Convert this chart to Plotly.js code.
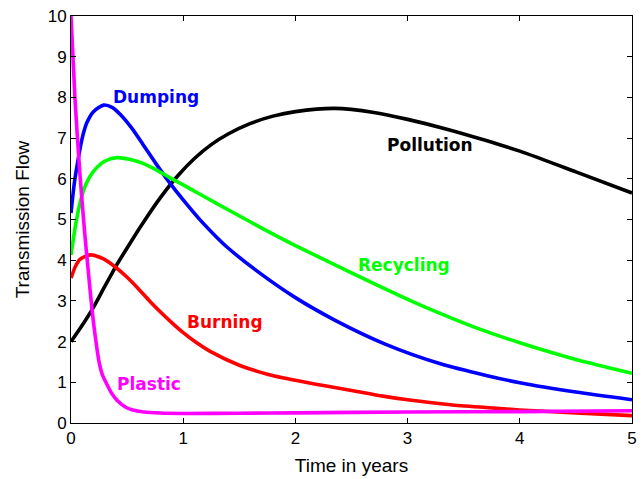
<!DOCTYPE html>
<html>
<head>
<meta charset="utf-8">
<script src="https://cdn.plot.ly/plotly-3.0.1.min.js"></script>
<style>
  html, body { margin: 0; padding: 0; background: #ffffff; }
  #chart { width: 643px; height: 479px; }
</style>
</head>
<body>
<div id="chart"></div>
<script>
// Transmission flow of each waste route over time (years)
const pollutionX = [0, 0.1, 0.2, 0.3, 0.4, 0.5, 0.65, 0.8, 0.95, 1.1, 1.25, 1.4, 1.6, 1.8, 2.0, 2.35, 2.7, 3.0, 3.35, 3.7, 4.0, 4.5, 5.0];
const pollutionY = [2.0, 2.4, 2.84, 3.35, 3.85, 4.3, 4.95, 5.55, 6.07, 6.5, 6.84, 7.1, 7.36, 7.54, 7.65, 7.73, 7.63, 7.46, 7.22, 6.94, 6.68, 6.17, 5.65];

const dumpingX = [0, 0.03, 0.065, 0.1, 0.14, 0.2, 0.29, 0.37, 0.44, 0.54, 0.64, 0.76, 0.88, 1.0, 1.15, 1.3, 1.4, 1.65, 2.0, 2.35, 2.8, 3.3, 3.7, 4.0, 4.5, 5.0];
const dumpingY = [5.16, 5.9, 6.5, 7.0, 7.37, 7.65, 7.81, 7.75, 7.58, 7.25, 6.85, 6.36, 5.9, 5.48, 4.99, 4.56, 4.3, 3.75, 3.08, 2.53, 1.94, 1.45, 1.17, 0.99, 0.76, 0.57];

const recyclingX = [0, 0.04, 0.08, 0.13, 0.2, 0.3, 0.41, 0.52, 0.64, 0.76, 0.88, 1.0, 1.15, 1.4, 1.7, 2.0, 2.5, 3.0, 3.3, 3.6, 4.0, 4.5, 5.0];
const recyclingY = [4.13, 4.85, 5.4, 5.85, 6.18, 6.43, 6.52, 6.48, 6.38, 6.22, 6.03, 5.85, 5.62, 5.24, 4.79, 4.36, 3.69, 3.04, 2.68, 2.35, 1.97, 1.56, 1.22];

const burningX = [0, 0.04, 0.08, 0.17, 0.29, 0.4, 0.5, 0.6, 0.7, 0.8, 0.9, 1.0, 1.12, 1.24, 1.5, 1.75, 2.0, 2.25, 2.5, 2.78, 3.0, 3.38, 3.7, 4.0, 4.5, 5.0];
const burningY = [3.56, 3.85, 4.02, 4.13, 4.03, 3.82, 3.58, 3.3, 3.0, 2.72, 2.46, 2.22, 1.97, 1.76, 1.42, 1.2, 1.05, 0.92, 0.8, 0.66, 0.57, 0.45, 0.38, 0.32, 0.25, 0.18];

const plasticX = [0, 0.036, 0.08, 0.12, 0.155, 0.19, 0.22, 0.25, 0.28, 0.32, 0.36, 0.41, 0.48, 0.55, 0.65, 0.8, 1.0, 1.5, 2.0, 3.0, 4.0, 5.0];
const plasticY = [10, 7.94, 6.1, 4.74, 3.7, 2.72, 2.05, 1.5, 1.18, 0.95, 0.74, 0.56, 0.4, 0.32, 0.27, 0.245, 0.235, 0.24, 0.25, 0.27, 0.28, 0.3];

const seriesNames = ["Pollution", "Dumping", "Recycling", "Burning", "Plastic"];
const seriesColors = ["#000000", "#0000ff", "#00ff00", "#ff0000", "#ff00ff"];
const seriesX = [pollutionX, dumpingX, recyclingX, burningX, plasticX];
const seriesY = [pollutionY, dumpingY, recyclingY, burningY, plasticY];

// Curve label anchors (data units)
const labelX = [3.2, 0.76, 2.97, 1.37, 0.695];
const labelY = [6.83, 8.01, 3.88, 2.48, 0.96];

const xTicks = [0, 1, 2, 3, 4, 5];
const yTicks = [0, 1, 2, 3, 4, 5, 6, 7, 8, 9, 10];

const traces = seriesNames.map((name, i) => ({
  type: "scatter",
  mode: "lines",
  name: name,
  x: seriesX[i],
  y: seriesY[i],
  line: { color: seriesColors[i], width: 3.6, shape: "spline", smoothing: 0.7 },
  hoverinfo: "skip"
}));

const annotations = seriesNames.map((name, i) => ({
  text: name,
  x: labelX[i],
  y: labelY[i],
  xref: "x",
  yref: "y",
  showarrow: false,
  xanchor: "center",
  yanchor: "middle",
  font: { family: "DejaVu Sans", size: 17, color: seriesColors[i], weight: "bold" }
}));

const axisCommon = {
  showline: true,
  linecolor: "#000000",
  linewidth: 1,
  mirror: "ticks",
  ticks: "inside",
  ticklen: 5,
  tickcolor: "#000000",
  tickwidth: 1,
  showgrid: false,
  zeroline: false,
  tickfont: { family: "Liberation Sans, Arial, sans-serif", size: 17, color: "#000000" },
  fixedrange: true
};

const titleFont = { family: "Liberation Sans, Arial, sans-serif", size: 19, color: "#000000" };

const layout = {
  width: 643,
  height: 479,
  margin: { l: 71, r: 11, t: 16, b: 56 },
  paper_bgcolor: "#ffffff",
  plot_bgcolor: "#ffffff",
  showlegend: false,
  xaxis: Object.assign({}, axisCommon, {
    range: [0, 5],
    tickvals: xTicks,
    ticktext: xTicks.map(String),
    title: { text: "Time in years", font: titleFont, standoff: 11 }
  }),
  yaxis: Object.assign({}, axisCommon, {
    range: [0, 10],
    tickvals: yTicks,
    ticktext: yTicks.map(String),
    title: { text: "Transmission Flow", font: titleFont, standoff: 13 }
  }),
  annotations: annotations
};

Plotly.newPlot("chart", traces, layout, { displayModeBar: false, staticPlot: true });
</script>
</body>
</html>
